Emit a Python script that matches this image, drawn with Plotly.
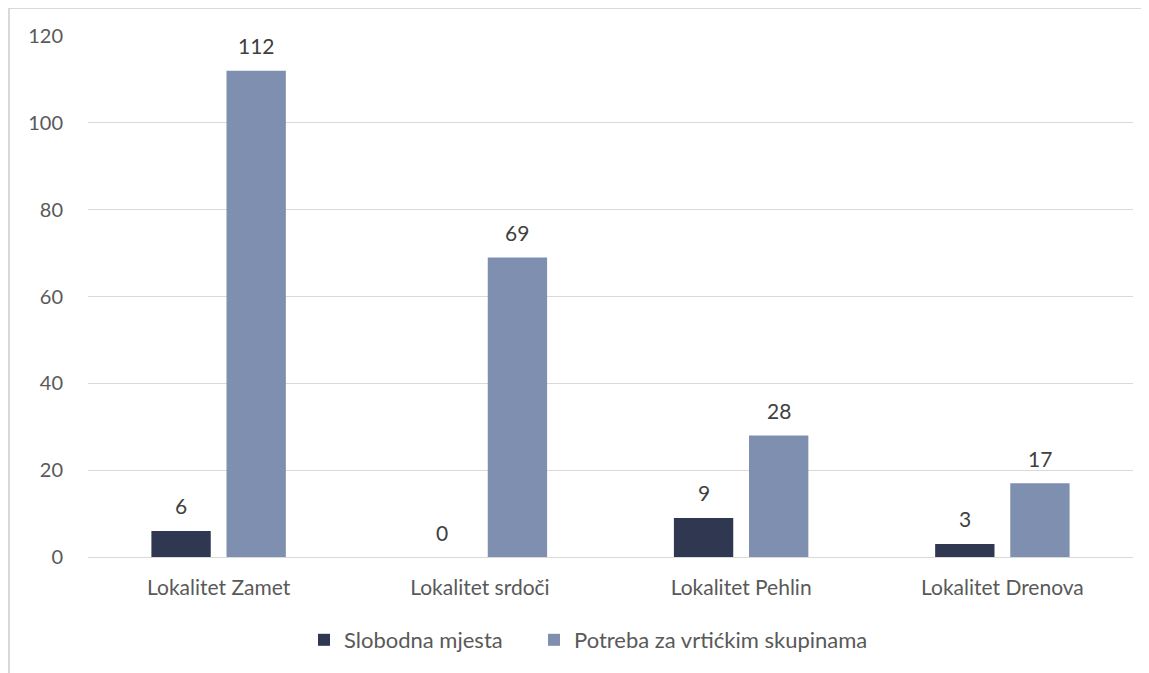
import plotly.graph_objects as go

categories = ["Lokalitet Zamet", "Lokalitet srdoči", "Lokalitet Pehlin", "Lokalitet Drenova"]
slobodna = [6, 0, 9, 3]
potreba = [112, 69, 28, 17]
series_names = ["Slobodna mjesta", "Potreba za vrtićkim skupinama"]
y_ticks = [0, 20, 40, 60, 80, 100, 120]

# page body has an 8px margin; figure coordinates are page minus 8
W, H = 1141, 665
L, R, T, B = 80, 16, 28, 116
pw, ph = W - L - R, H - T - B
BARGAP = 0.425
BARGROUPGAP = 0.21

def px_x(x):
    return (x - L) / pw

def px_y(y):
    return (H - B - y) / ph

font = "Lato, Calibri, 'Open Sans', sans-serif"
colors = ["#2F3850", "#7F8FAF"]
legends = ["legend", "legend2"]
fig = go.Figure()
for name, vals, col, lg in zip(series_names, [slobodna, potreba], colors, legends):
    fig.add_trace(go.Bar(x=categories, y=vals, name=name, legend=lg,
                         marker=dict(color=col, line=dict(width=0))))

offset = (1 - BARGAP) / 4
annotations = []
for k, vals in enumerate([slobodna, potreba]):
    for i, v in enumerate(vals):
        annotations.append(dict(
            x=i + (offset if k else -offset), y=v, xref="x", yref="y",
            text=str(v), showarrow=False, yanchor="middle", yshift=25,
            font=dict(size=21, color="#404040", family=font)))

leg_common = dict(orientation="h", xanchor="left", y=px_y(632), yanchor="middle",
                  font=dict(size=22, color="#595959"), itemwidth=30,
                  bgcolor="rgba(0,0,0,0)")

fig.update_layout(
    width=W, height=H, autosize=False,
    margin=dict(l=L, r=R, t=T, b=B),
    paper_bgcolor="white", plot_bgcolor="white",
    barmode="group", bargap=BARGAP, bargroupgap=BARGROUPGAP,
    font=dict(family=font, color="#595959", size=20),
    showlegend=True,
    legend=dict(x=px_x(296), **leg_common),
    legend2=dict(x=px_x(526), **leg_common),
    xaxis=dict(showgrid=False, showline=False, ticks="", ticklabelstandoff=16,
               tickfont=dict(size=21, color="#595959")),
    yaxis=dict(range=[0, 120], tickvals=y_ticks, showgrid=True, gridcolor="#D9D9D9",
               gridwidth=1, zeroline=True, zerolinecolor="#D9D9D9", zerolinewidth=1,
               showline=False, ticks="", ticklabelstandoff=24,
               tickfont=dict(size=20, color="#595959")),
    annotations=annotations,
    shapes=[
        dict(type="line", xref="paper", yref="paper", x0=px_x(1), x1=px_x(1160),
             y0=px_y(0), y1=px_y(0), line=dict(color="#D9D9D9", width=2)),
        dict(type="line", xref="paper", yref="paper", x0=px_x(1), x1=px_x(1),
             y0=px_y(0), y1=px_y(680), line=dict(color="#D9D9D9", width=2)),
    ],
)

fig.write_html("out.html")
